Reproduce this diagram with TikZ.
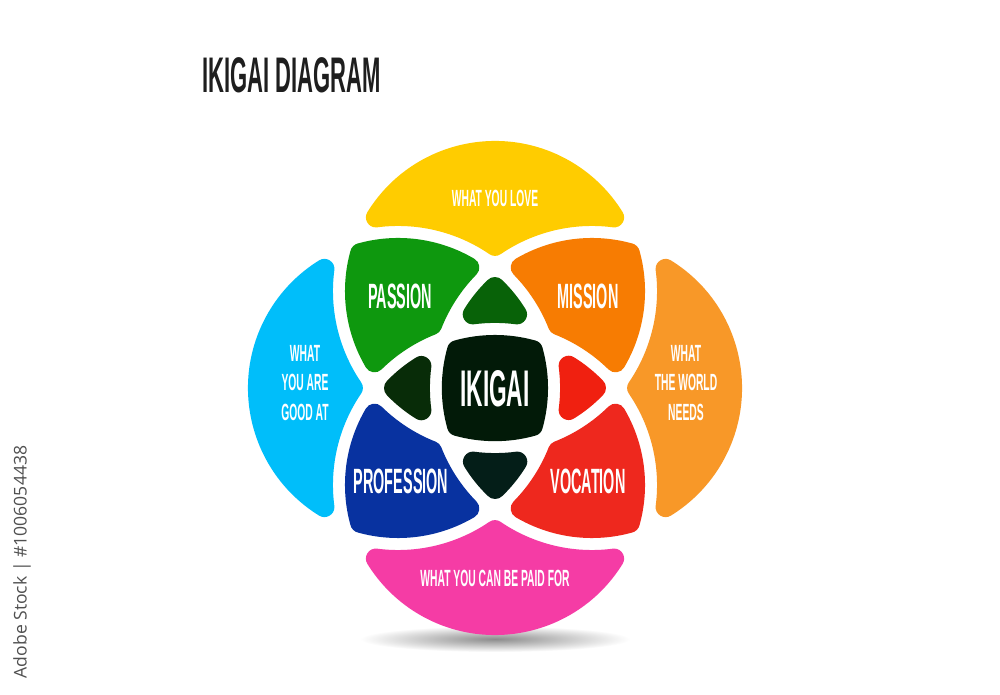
\documentclass[tikz,border=0pt]{standalone}
\usepackage{fontspec}
\setmainfont{Liberation Sans}
\newfontfamily\narrowfont[FakeStretch=0.44]{Liberation Sans}
\newfontfamily\tightfont[FakeStretch=0.41]{Liberation Sans}
\newfontfamily\markfont{Open Sans}
\definecolor{loveyellow}{RGB}{255,204,0}
\definecolor{goodblue}{RGB}{0,190,250}
\definecolor{needsorange}{RGB}{248,152,40}
\definecolor{paidpink}{RGB}{245,60,165}
\definecolor{passiongreen}{RGB}{14,152,14}
\definecolor{missionorange}{RGB}{247,124,2}
\definecolor{professionblue}{RGB}{8,50,160}
\definecolor{vocationred}{RGB}{238,40,30}
\definecolor{topgreen}{RGB}{8,98,8}
\definecolor{leftgreen}{RGB}{8,44,8}
\definecolor{rightred}{RGB}{240,32,16}
\definecolor{bottomdark}{RGB}{4,30,24}
\definecolor{ikigaiblack}{RGB}{2,26,8}
\definecolor{titlegray}{RGB}{30,30,30}
\definecolor{markgray}{RGB}{80,80,80}

\begin{document}
\begin{tikzpicture}[x=0.3mm, y=0.3mm,
    region/.style={line width=6mm, line join=round},
    smalltext/.style={text=white, align=center,
        font=\narrowfont\bfseries\fontsize{20}{25.2}\selectfont},
    bigtext/.style={text=white,
        font=\tightfont\bfseries\fontsize{30}{36}\selectfont}]
    \fill[white] (0, 0) rectangle (1000, 695);
    \useasboundingbox (0, 0) rectangle (1000, 695);
    \shade[inner color=black!45, outer color=white]
        (495, 56) ellipse [x radius=135, y radius=13];
    % top: love / passion / top corner
    \begin{scope}[shift={(495, 307)}, rotate=0]
        \filldraw[region, color=loveyellow]
        (-119.1, 170.6) arc[start angle=148.3, end angle=31.7, radius=140]
        arc[start angle=82.6, end angle=124.3, radius=172]
        arc[start angle=55.7, end angle=97.4, radius=172] -- cycle;
        \filldraw[region, color=passiongreen]
        (-134.8, 134.8) arc[start angle=105.7, end angle=59.4, radius=140]
        arc[start angle=135.5, end angle=158.5, radius=172]
        arc[start angle=111.5, end angle=134.5, radius=172]
        arc[start angle=210.6, end angle=164.3, radius=140] -- cycle;
        \filldraw[region, color=topgreen]
        (0, 100.95) arc[start angle=46.1, end angle=31.7, radius=140]
        arc[start angle=82.6, end angle=97.4, radius=172]
        arc[start angle=148.3, end angle=133.9, radius=140] -- cycle;
    \end{scope}
    % left: good at / profession / left corner
    \begin{scope}[shift={(495, 307)}, rotate=90]
        \filldraw[region, color=goodblue]
        (-119.1, 170.6) arc[start angle=148.3, end angle=31.7, radius=140]
        arc[start angle=82.6, end angle=124.3, radius=172]
        arc[start angle=55.7, end angle=97.4, radius=172] -- cycle;
        \filldraw[region, color=professionblue]
        (-134.8, 134.8) arc[start angle=105.7, end angle=59.4, radius=140]
        arc[start angle=135.5, end angle=158.5, radius=172]
        arc[start angle=111.5, end angle=134.5, radius=172]
        arc[start angle=210.6, end angle=164.3, radius=140] -- cycle;
        \filldraw[region, color=leftgreen]
        (0, 100.95) arc[start angle=46.1, end angle=31.7, radius=140]
        arc[start angle=82.6, end angle=97.4, radius=172]
        arc[start angle=148.3, end angle=133.9, radius=140] -- cycle;
    \end{scope}
    % bottom: paid for / vocation / bottom corner
    \begin{scope}[shift={(495, 307)}, rotate=180]
        \filldraw[region, color=paidpink]
        (-119.1, 170.6) arc[start angle=148.3, end angle=31.7, radius=140]
        arc[start angle=82.6, end angle=124.3, radius=172]
        arc[start angle=55.7, end angle=97.4, radius=172] -- cycle;
        \filldraw[region, color=vocationred]
        (-134.8, 134.8) arc[start angle=105.7, end angle=59.4, radius=140]
        arc[start angle=135.5, end angle=158.5, radius=172]
        arc[start angle=111.5, end angle=134.5, radius=172]
        arc[start angle=210.6, end angle=164.3, radius=140] -- cycle;
        \filldraw[region, color=bottomdark]
        (0, 100.95) arc[start angle=46.1, end angle=31.7, radius=140]
        arc[start angle=82.6, end angle=97.4, radius=172]
        arc[start angle=148.3, end angle=133.9, radius=140] -- cycle;
    \end{scope}
    % right: world needs / mission / right corner
    \begin{scope}[shift={(495, 307)}, rotate=270]
        \filldraw[region, color=needsorange]
        (-119.1, 170.6) arc[start angle=148.3, end angle=31.7, radius=140]
        arc[start angle=82.6, end angle=124.3, radius=172]
        arc[start angle=55.7, end angle=97.4, radius=172] -- cycle;
        \filldraw[region, color=missionorange]
        (-134.8, 134.8) arc[start angle=105.7, end angle=59.4, radius=140]
        arc[start angle=135.5, end angle=158.5, radius=172]
        arc[start angle=111.5, end angle=134.5, radius=172]
        arc[start angle=210.6, end angle=164.3, radius=140] -- cycle;
        \filldraw[region, color=rightred]
        (0, 100.95) arc[start angle=46.1, end angle=31.7, radius=140]
        arc[start angle=82.6, end angle=97.4, radius=172]
        arc[start angle=148.3, end angle=133.9, radius=140] -- cycle;
    \end{scope}
    % centre
    \begin{scope}[shift={(495, 307)}]
        \filldraw[region, color=ikigaiblack]
        (37.8, 37.8) arc[start angle=15.7, end angle=-15.7, radius=140]
        arc[start angle=-74.3, end angle=-105.7, radius=140]
        arc[start angle=195.7, end angle=164.3, radius=140]
        arc[start angle=105.7, end angle=74.3, radius=140] -- cycle;
    \end{scope}
    \node[text=titlegray, font=\narrowfont\bfseries\fontsize{42.7}{48}\selectfont]
        (title) at (291.5, 620) {IKIGAI DIAGRAM};
    \node[smalltext] (love) at (495, 497) {WHAT YOU LOVE};
    \node[smalltext] (good) at (305, 312) {WHAT\\YOU ARE\\GOOD AT};
    \node[smalltext] (needs) at (686, 312) {WHAT\\THE WORLD\\NEEDS};
    \node[smalltext] (paid) at (495, 117) {WHAT YOU CAN BE PAID FOR};
    \node[bigtext] (passion) at (400, 399) {PASSION};
    \node[bigtext] (mission) at (588, 399) {MISSION};
    \node[bigtext] (profession) at (401, 214) {PROFESSION};
    \node[bigtext] (vocation) at (588, 214) {VOCATION};
    \node[text=white, font=\narrowfont\bfseries\fontsize{44}{50}\selectfont]
        (ikigai) at (495, 306) {IKIGAI};
    \node[text=markgray, font=\markfont\fontsize{15}{18}\selectfont, rotate=90]
        (stock) at (22, 133) {Adobe Stock | \#1006054438};
\end{tikzpicture}
\end{document}
